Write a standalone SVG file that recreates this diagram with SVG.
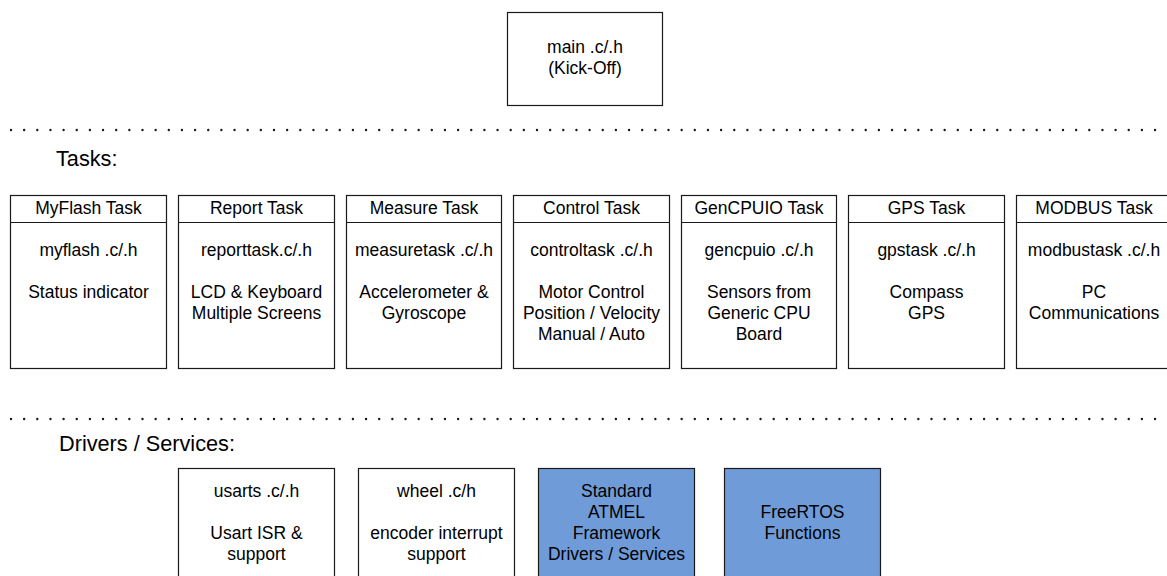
<svg xmlns="http://www.w3.org/2000/svg" width="1167" height="576" viewBox="0 0 1167 576">
<style>
text{font-family:"Liberation Sans",Arial,sans-serif;fill:#000;text-anchor:middle;font-size:17.5px}
.box{fill:#fff;stroke:#1a1a1a;stroke-width:1.2}
.blue{fill:#6f9bd9;stroke:#1a1a1a;stroke-width:1.2}
.sep{stroke:#1a1a1a;stroke-width:2.4;stroke-linecap:round;stroke-dasharray:0 13.15}
.title{font-size:21.7px;text-anchor:start}
</style>
<rect width="1167" height="576" fill="#fff"/>
<line class="sep" x1="11" y1="130" x2="1167" y2="130"/>
<line class="sep" x1="11" y1="419" x2="1167" y2="419"/>
<text class="title" x="56" y="166">Tasks:</text>
<text class="title" x="59" y="451">Drivers / Services:</text>
<g id="main">
<rect class="box" x="507.5" y="12.5" width="155" height="93"/>
<text x="585" y="53">main .c/.h</text>
<text x="585" y="74">(Kick-Off)</text>
</g>
<g id="myflash">
<rect class="box" x="10.5" y="195.5" width="156" height="173"/>
<line class="box" x1="10.5" y1="222.5" x2="166.5" y2="222.5"/>
<text x="88.5" y="214">MyFlash Task</text>
<text x="88.5" y="256">myflash .c/.h</text>
<text x="88.5" y="298">Status indicator</text>
</g>
<g id="report">
<rect class="box" x="178.5" y="195.5" width="156" height="173"/>
<line class="box" x1="178.5" y1="222.5" x2="334.5" y2="222.5"/>
<text x="256.5" y="214">Report Task</text>
<text x="256.5" y="256">reporttask.c/.h</text>
<text x="256.5" y="298">LCD &amp; Keyboard</text>
<text x="256.5" y="319">Multiple Screens</text>
</g>
<g id="measure">
<rect class="box" x="346.5" y="195.5" width="155" height="173"/>
<line class="box" x1="346.5" y1="222.5" x2="501.5" y2="222.5"/>
<text x="424" y="214">Measure Task</text>
<text x="424" y="256">measuretask .c/.h</text>
<text x="424" y="298">Accelerometer &amp;</text>
<text x="424" y="319">Gyroscope</text>
</g>
<g id="control">
<rect class="box" x="513.5" y="195.5" width="156" height="173"/>
<line class="box" x1="513.5" y1="222.5" x2="669.5" y2="222.5"/>
<text x="591.5" y="214">Control Task</text>
<text x="591.5" y="256">controltask .c/.h</text>
<text x="591.5" y="298">Motor Control</text>
<text x="591.5" y="319">Position / Velocity</text>
<text x="591.5" y="340">Manual / Auto</text>
</g>
<g id="gencpuio">
<rect class="box" x="681.5" y="195.5" width="155" height="173"/>
<line class="box" x1="681.5" y1="222.5" x2="836.5" y2="222.5"/>
<text x="759" y="214">GenCPUIO Task</text>
<text x="759" y="256">gencpuio .c/.h</text>
<text x="759" y="298">Sensors from</text>
<text x="759" y="319">Generic CPU</text>
<text x="759" y="340">Board</text>
</g>
<g id="gps">
<rect class="box" x="848.5" y="195.5" width="156" height="173"/>
<line class="box" x1="848.5" y1="222.5" x2="1004.5" y2="222.5"/>
<text x="926.5" y="214">GPS Task</text>
<text x="926.5" y="256">gpstask .c/.h</text>
<text x="926.5" y="298">Compass</text>
<text x="926.5" y="319">GPS</text>
</g>
<g id="modbus">
<rect class="box" x="1016.5" y="195.5" width="156" height="173"/>
<line class="box" x1="1016.5" y1="222.5" x2="1172.5" y2="222.5"/>
<text x="1094" y="214">MODBUS Task</text>
<text x="1094" y="256">modbustask .c/.h</text>
<text x="1094" y="298">PC</text>
<text x="1094" y="319">Communications</text>
</g>
<g id="usarts">
<rect class="box" x="178.5" y="468.5" width="156" height="115"/>
<text x="256.5" y="497">usarts .c/.h</text>
<text x="256.5" y="539">Usart ISR &amp;</text>
<text x="256.5" y="560">support</text>
</g>
<g id="wheel">
<rect class="box" x="358.5" y="468.5" width="156" height="115"/>
<text x="436.5" y="497">wheel .c/h</text>
<text x="436.5" y="539">encoder interrupt</text>
<text x="436.5" y="560">support</text>
</g>
<g id="atmel">
<rect class="blue" x="538.5" y="468.5" width="156" height="115"/>
<text x="616.5" y="497">Standard</text>
<text x="616.5" y="518">ATMEL</text>
<text x="616.5" y="539">Framework</text>
<text x="616.5" y="560">Drivers / Services</text>
</g>
<g id="freertos">
<rect class="blue" x="724.5" y="468.5" width="156" height="115"/>
<text x="802.5" y="518">FreeRTOS</text>
<text x="802.5" y="539">Functions</text>
</g>
<g id="connectors"></g>
</svg>
